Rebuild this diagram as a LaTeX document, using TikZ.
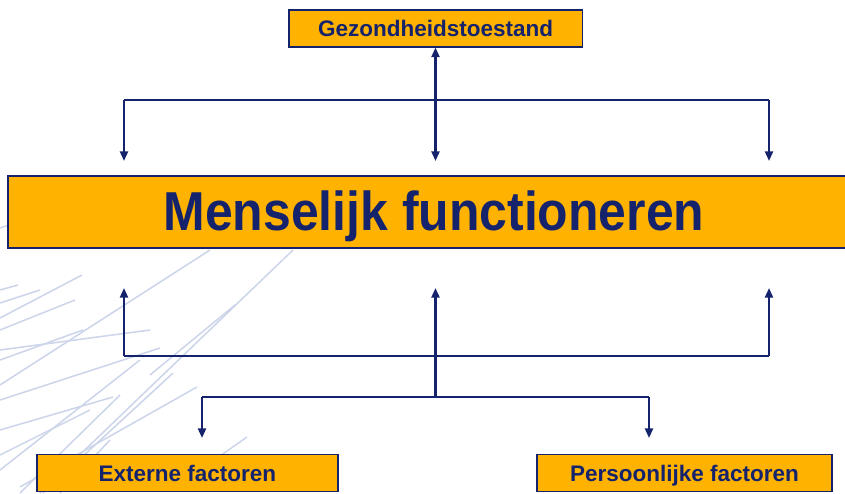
\documentclass[tikz,border=0pt]{standalone}
\usepackage{fontspec}
\setmainfont{Liberation Sans}
\newfontfamily\narrowfont{Liberation Sans}[FakeStretch=0.91]
\usetikzlibrary{
	arrows.meta,
	positioning
}
\definecolor{navy}{HTML}{14236B}
\definecolor{oranje}{HTML}{FFB300}
\definecolor{krabbel}{HTML}{CDD5EA}
\tikzset{every path/.append style={line width=1.5pt}}
\tikzset{every path/.append style={>={Triangle[length=2.4mm,width=2mm]}}}
\tikzset{
	vak/.style={draw=navy,line width=0.9pt,fill=oranje,text=navy,inner sep=0pt},
	klein/.style={vak,minimum height=0.92cm,text height=0.5cm,text depth=0.1cm,
		font=\bfseries\fontsize{16}{19}\selectfont},
	pijl/.style={draw=navy,line width=1.5pt}
}

\begin{document}
\begin{tikzpicture}[x=0.025cm,y=-0.025cm]
	\useasboundingbox (0,0) rectangle (845,493);

	% krabbels op de achtergrond
	\foreach \a/\b/\c/\d in {
		293/250/40/493, 210/250/0/385, 82/275/0/318, 0/290/18/285,
		0/303/40/290, 0/330/75/300, 160/348/0/400, 197/387/20/487,
		247/437/200/470, 113/397/0/430, 173/373/43/493, 110/440/60/493,
		0/228/12/224, 140/360/0/470, 83/330/0/360, 235/305/150/375,
		0/455/90/410, 20/493/120/395, 150/330/0/350}
		\draw[krabbel,line width=1.1pt] (\a,\b) -- (\c,\d);

	% vakken
	\node (gezond) at (435.5,28.5) [klein,minimum width=7.33cm] {Gezondheidstoestand};
	\node (mens) at (434,212) [vak,minimum width=21.3cm,minimum height=1.8cm,
		text height=1.23cm,text depth=0.29cm,
		font=\narrowfont\bfseries\fontsize{39}{44}\selectfont] {Menselijk functioneren};
	\node (extern) at (187.5,473) [klein,minimum width=7.52cm] {Externe factoren};
	\node (persoon) at (684.5,473) [klein,minimum width=7.37cm] {Persoonlijke factoren};

	% hulppunten
	\coordinate (tl) at (124,100);
	\coordinate (tr) at (769,100);
	\coordinate (tlp) at (124,161);
	\coordinate (tmp) at (435.5,161);
	\coordinate (trp) at (769,161);
	\coordinate (bl) at (124,356);
	\coordinate (br) at (769,356);
	\coordinate (blp) at (124,288);
	\coordinate (bmp) at (435.5,288);
	\coordinate (brp) at (769,288);
	\coordinate (vm) at (435.5,397);
	\coordinate (vl) at (202,397);
	\coordinate (vr) at (649,397);
	\coordinate (vlp) at (202,438);
	\coordinate (vrp) at (649,438);

	% pijlen boven
	\draw[pijl,<->] (gezond.south) -- (tmp);
	\draw[pijl,->] (tl) -- (tlp);
	\draw[pijl,->] (tr) -- (trp);
	\draw[pijl] (tl) -- (tr);

	% pijlen onder
	\draw[pijl,->] (bl) -- (blp);
	\draw[pijl,->] (br) -- (brp);
	\draw[pijl] (bl) -- (br);
	\draw[pijl,->] (vm) -- (bmp);
	\draw[pijl] (vl) -- (vr);
	\draw[pijl,->] (vl) -- (vlp);
	\draw[pijl,->] (vr) -- (vrp);
\end{tikzpicture}
\end{document}
